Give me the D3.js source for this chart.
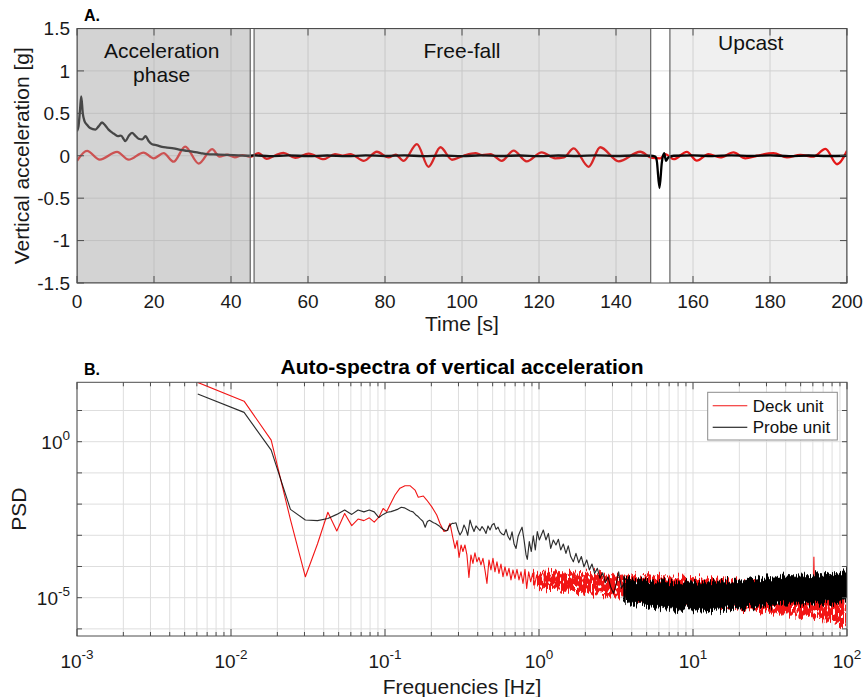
<!DOCTYPE html>
<html>
<head>
<meta charset="utf-8">
<script src="https://cdn.jsdelivr.net/npm/d3@7"></script>
<style>
  body { margin: 0; background: #fff; }
  svg text { font-family: "Liberation Sans", Arial, Helvetica, sans-serif; }
</style>
</head>
<body>
<svg id="fig" width="863" height="697"></svg>
<script>
// ---------------- Panel A: vertical acceleration time series ----------------
const deckTime = [0, 2.6, 5.9, 10.4, 13.4, 17.3, 19.9, 22.5, 25.1, 28.1, 31.6, 35.1, 37.0, 39.0, 41.0, 43.0, 45.0,
  47.1, 49.3, 51.3, 53.6, 56.7, 60.2, 64.1, 67.0, 69.0, 71.0, 74.5, 77.9, 80.9, 82.8, 84.8, 88.3, 91.3, 94.4, 97.4,
  100.4, 103.5, 105.2, 107.4, 110.3, 113.4, 116.8, 120.7, 124.2, 126.5, 129.0, 132.9, 135.9, 140.7, 146.3, 149.3,
  151.5, 152.8, 155.0, 158.4, 161.0, 164.0, 167.1, 170.5, 173.6, 176.6, 180.9, 184.4, 187.9, 191.3, 194.4, 197.4, 200];
const deckAccel = [-0.06, 0.058, -0.046, 0.046, -0.046, 0.038, -0.03, 0.03, -0.07, 0.108, -0.092, 0.077, -0.01, 0.012, -0.018, 0.008, -0.012,
  0.03, -0.037, 0.0, 0.035, -0.025, 0.024, -0.04, 0.02, 0.0, 0.02, -0.06, 0.047, -0.02, 0.012, -0.06, 0.138, -0.13, 0.10, -0.047,
  0.0, 0.03, 0.008, 0.02, -0.06, 0.06, -0.066, 0.04, -0.03, -0.02, 0.087, -0.13, 0.10, -0.066, 0.047, -0.025,
  -0.03, 0.02, -0.04, 0.046, -0.058, 0.02, -0.02, 0.04, -0.03, 0.0, 0.03, -0.02, 0.01, -0.01, 0.08, -0.10, 0.06];

const probeTime = [0, 0.4, 0.8, 1.1, 1.5, 1.9, 2.6, 3.4, 4.8, 5.6, 6.5, 7.4, 8.2, 9.5, 10.6, 11.4, 12.6, 13.4, 14.3,
  15.1, 16.0, 16.9, 17.8, 18.6, 19.5, 20.8, 22.1, 23.4, 25.1, 26.9, 28.6, 30.3, 32.1, 33.8, 36.4, 40.7, 44.1,
  46, 50, 55, 60, 65, 70, 75, 80, 85, 90, 95, 100, 105, 110, 115, 120, 125, 130, 135, 140, 145, 149,
  150.2, 150.6, 151.3, 151.9, 152.5, 153.0, 153.6, 155, 160, 165, 170, 175, 180, 185, 190, 195, 200];
const probeAccel = [0.29, 0.35, 0.55, 0.70, 0.50, 0.415, 0.365, 0.327, 0.308, 0.346, 0.392, 0.354, 0.308, 0.262, 0.231, 0.238, 0.173, 0.231, 0.269,
  0.238, 0.20, 0.192, 0.231, 0.173, 0.135, 0.123, 0.104, 0.096, 0.088, 0.069, 0.058, 0.046, 0.031, 0.019, 0.015, 0.008, 0.0,
  0.005, -0.005, 0.004, -0.004, 0.003, -0.005, 0.004, -0.003, 0.004, -0.004, 0.003, -0.004, 0.004, -0.003, 0.003, -0.004, 0.003, -0.003, 0.004, -0.003, 0.003, 0.0,
  -0.01, -0.06, -0.38, -0.08, 0.03, -0.06, -0.02, 0.0, 0.004, -0.004, 0.005, -0.003, 0.004, -0.004, 0.003, -0.003, 0.0];

const phaseLabels = [["Acceleration", "phase"], ["Free-fall"], ["Upcast"]];
const phaseStart = [0, 46, 154];
const phaseEnd = [45, 149, 200];
const phaseLabelTime = [22, 100, 175];

const timeTicks = [0, 20, 40, 60, 80, 100, 120, 140, 160, 180, 200];
const accelTicks = [-1.5, -1, -0.5, 0, 0.5, 1, 1.5];

// ---------------- Panel B: auto-spectra (log10 frequency, log10 PSD) ----------------
const deckLogFreq = [-2.216, -1.915, -1.739, -1.614, -1.517, -1.438, -1.371, -1.313, -1.262, -1.216, -1.175, -1.137,
  -1.102, -1.070, -1.040, -1.012, -0.989, -0.968, -0.935, -0.903, -0.870, -0.838, -0.805, -0.784, -0.751, -0.729,
  -0.697, -0.664, -0.643, -0.617, -0.595, -0.578, -0.561, -0.545, -0.532, -0.519, -0.506, -0.494, -0.481, -0.468,
  -0.455, -0.442, -0.429, -0.416, -0.403, -0.390, -0.377, -0.364, -0.351, -0.338, -0.325, -0.312, -0.299, -0.286,
  -0.273, -0.260, -0.247, -0.234, -0.221, -0.208, -0.195, -0.182, -0.169, -0.156, -0.143, -0.130, -0.117, -0.104,
  -0.091, -0.080, -0.067, -0.054, -0.041, -0.028, -0.015, -0.002];
const deckLogPsd = [1.90, 1.30, 0.05, -2.50, -4.33, -3.27, -2.26, -2.86, -2.30, -2.69, -2.48, -2.53,
  -2.44, -2.58, -2.42, -2.14, -2.24, -2.03, -1.71, -1.49, -1.41, -1.41, -1.55, -1.78, -1.74, -1.87,
  -2.08, -2.35, -2.62, -2.88, -2.83, -2.62, -3.04, -3.42, -3.17, -3.71, -3.31, -3.52, -3.31, -3.63,
  -4.35, -3.63, -3.90, -3.56, -3.85, -3.71, -3.95, -3.74, -4.11, -4.54, -3.79, -4.11, -3.74, -4.17,
  -3.85, -4.22, -3.92, -4.33, -4.01, -4.30, -4.06, -4.43, -4.11, -4.38, -4.09, -4.43, -4.17, -4.54,
  -4.09, -4.70, -4.17, -4.49, -4.22, -4.59, -4.27, -4.54];

const probeLogFreq = [-2.216, -1.915, -1.739, -1.614, -1.517, -1.438, -1.371, -1.313, -1.262, -1.216, -1.175, -1.137,
  -1.102, -1.070, -1.040, -1.012, -0.985, -0.961, -0.937, -0.915, -0.894, -0.874, -0.854, -0.836, -0.818, -0.801,
  -0.785, -0.769, -0.754, -0.739, -0.725, -0.711, -0.698, -0.685, -0.672, -0.660, -0.648, -0.636, -0.625, -0.614,
  -0.604, -0.593, -0.583, -0.573, -0.564, -0.556, -0.539, -0.526, -0.513, -0.500, -0.487, -0.474, -0.463, -0.448,
  -0.435, -0.422, -0.409, -0.396, -0.383, -0.370, -0.357, -0.344, -0.331, -0.318, -0.305, -0.292, -0.279, -0.266,
  -0.253, -0.240, -0.227, -0.214, -0.201, -0.188, -0.175, -0.162, -0.149, -0.136, -0.123, -0.110, -0.097, -0.084,
  -0.076, -0.063, -0.050, -0.037, -0.024, -0.011, 0.002, 0.028, 0.045, 0.061, 0.076, 0.093, 0.110, 0.126, 0.141,
  0.158, 0.175, 0.190, 0.206, 0.223, 0.240, 0.258, 0.275, 0.292, 0.310, 0.327, 0.344, 0.361, 0.379, 0.396, 0.413,
  0.431, 0.448, 0.465, 0.483, 0.500, 0.517, 0.535, 0.552, 0.569];
const probeLogPsd = [1.53, 0.94, -0.27, -2.17, -2.51, -2.53, -2.46, -2.33, -2.19, -2.33, -2.19, -2.25,
  -2.19, -2.25, -2.43, -2.33, -2.26, -2.24, -2.20, -2.16, -2.10, -2.12, -2.17, -2.22, -2.25, -2.34,
  -2.40, -2.48, -2.55, -2.74, -2.56, -2.52, -2.56, -2.60, -2.62, -2.66, -2.70, -2.76, -2.80, -2.83,
  -2.86, -2.84, -2.70, -2.66, -2.62, -2.62, -2.60, -2.83, -2.99, -2.88, -2.67, -2.81, -3.00, -2.51,
  -2.72, -2.88, -2.70, -2.78, -2.85, -2.72, -2.81, -2.94, -2.70, -2.83, -2.67, -2.62, -2.81, -2.74,
  -2.89, -2.96, -2.99, -2.81, -3.04, -3.15, -2.89, -3.28, -3.42, -3.04, -2.88, -2.74, -3.15, -3.63,
  -3.77, -3.20, -3.52, -3.02, -3.47, -2.88, -3.15, -2.83, -3.15, -2.94, -3.42, -3.15, -3.31, -3.13, -3.47,
  -3.28, -3.58, -3.34, -3.68, -3.85, -3.58, -3.88, -3.68, -4.01, -3.79, -4.11, -3.92, -4.22, -4.06, -4.38, -4.20,
  -4.52, -4.33, -4.65, -4.86, -4.59, -4.17, -4.70, -4.54, -5.07];

// Dense high-frequency parts: lower / upper envelope of the noisy spectra
const deckBandLogFreq = [-0.02, 0.05, 0.10, 0.15, 0.20, 0.25, 0.30, 0.35, 0.40, 0.45, 0.50, 0.55, 0.60, 0.65, 0.70,
  0.80, 0.90, 1.00, 1.10, 1.20, 1.30, 1.40, 1.50, 1.60, 1.70, 1.78, 1.85, 1.90, 1.95, 2.00];
const deckBandLo = [-4.62, -4.72, -4.70, -4.80, -4.78, -4.88, -4.85, -4.92, -4.90, -4.96, -4.94, -4.98, -4.97, -5.02, -5.00,
  -5.06, -5.12, -5.16, -5.22, -5.26, -5.33, -5.42, -5.48, -5.55, -5.58, -5.62, -5.70, -5.75, -5.85, -5.92];
const deckBandHi = [-4.12, -4.18, -4.15, -4.20, -4.18, -4.24, -4.21, -4.27, -4.24, -4.29, -4.26, -4.31, -4.28, -4.32, -4.29,
  -4.33, -4.34, -4.35, -4.38, -4.42, -4.47, -4.52, -4.57, -4.60, -4.64, -4.66, -4.70, -4.74, -4.78, -4.82];
// narrow line near 61 Hz standing out of the deck-unit noise
const deckPeakLogFreq = [1.782, 1.785, 1.788];
const deckPeakLogPsd = [-4.60, -3.69, -4.60];

const probeBandLogFreq = [0.55, 0.60, 0.65, 0.70, 0.75, 0.80, 0.85, 0.90, 0.95, 1.00, 1.05, 1.10, 1.15, 1.20, 1.25,
  1.30, 1.35, 1.40, 1.45, 1.50, 1.55, 1.60, 1.65, 1.70, 1.75, 1.80, 1.85, 1.90, 1.95, 2.00];
const probeBandLo = [-5.10, -5.22, -5.18, -5.30, -5.25, -5.38, -5.30, -5.42, -5.33, -5.40, -5.34, -5.45, -5.33, -5.38, -5.30,
  -5.40, -5.28, -5.33, -5.25, -5.30, -5.20, -5.25, -5.17, -5.22, -5.15, -5.20, -5.12, -5.16, -5.10, -5.12];
const probeBandHi = [-4.30, -4.40, -4.45, -4.42, -4.50, -4.47, -4.52, -4.48, -4.52, -4.46, -4.52, -4.47, -4.50, -4.44, -4.48,
  -4.42, -4.45, -4.38, -4.42, -4.35, -4.38, -4.30, -4.34, -4.27, -4.30, -4.22, -4.26, -4.18, -4.22, -4.15];

const freqDecades = [-3, -2, -1, 0, 1, 2];
const psdGridDecades = [-6, -5, -4, -3, -2, -1, 0, 1];
const psdLabelDecades = [0, -5];
const seriesNames = ["Deck unit", "Probe unit"];

// ---------------- drawing ----------------
const svg = d3.select("#fig");
const pow10 = v => Math.pow(10, v);
const FONT_TICK = 19, FONT_LABEL = 21;
const AXIS_COLOR = "#4d4d4d", GRID_COLOR = "#dedede";
const DECK_COLOR = "#f21515", PROBE_COLOR = "#000000";

// texture filters: ragged edges (column-wise vertical jitter) and optional light speckle
const defs = svg.append("defs");
function raggedFilter(id, seed, scale, speckle) {
  const f = defs.append("filter").attr("id", id).attr("color-interpolation-filters", "sRGB")
    .attr("x", "-2%").attr("y", "-40%").attr("width", "104%").attr("height", "180%");
  f.append("feTurbulence").attr("type", "fractalNoise").attr("baseFrequency", "0.7 0.004")
    .attr("numOctaves", 2).attr("seed", seed).attr("result", "warp");
  f.append("feDisplacementMap").attr("in", "SourceGraphic").attr("in2", "warp")
    .attr("scale", scale).attr("xChannelSelector", "B").attr("yChannelSelector", "G").attr("result", "moved");
  if (speckle) {
    f.append("feTurbulence").attr("type", "fractalNoise").attr("baseFrequency", "0.45 0.2")
      .attr("numOctaves", 1).attr("seed", seed + 11).attr("result", "speck");
    f.append("feColorMatrix").attr("in", "speck").attr("type", "matrix")
      .attr("values", `0 0 0 0 0  0 0 0 0 0  0 0 0 0 0  -14 0 0 0 ${14 * speckle}`).attr("result", "keep");
    f.append("feComposite").attr("in", "moved").attr("in2", "keep").attr("operator", "in");
  }
}
raggedFilter("raggedDeck", 3, 16, 0.66);
raggedFilter("raggedProbe", 5, 16, 0);

// ===== Panel A =====
const A = { l: 77, r: 847, t: 28.5, b: 283 };
const xA = d3.scaleLinear().domain([0, 200]).range([A.l, A.r]);
const yA = d3.scaleLinear().domain([-1.5, 1.5]).range([A.b, A.t]);

svg.append("clipPath").attr("id", "clipA").append("rect")
  .attr("x", A.l).attr("y", A.t).attr("width", A.r - A.l).attr("height", A.b - A.t);

const gA = svg.append("g");
const gridA = gA.append("g").attr("stroke", GRID_COLOR).attr("stroke-width", 1);
timeTicks.slice(1, -1).forEach(t => gridA.append("line")
  .attr("x1", xA(t)).attr("x2", xA(t)).attr("y1", A.t).attr("y2", A.b));
accelTicks.slice(1, -1).forEach(v => gridA.append("line")
  .attr("x1", A.l).attr("x2", A.r).attr("y1", yA(v)).attr("y2", yA(v)));

const lineA = d3.line().x(d => xA(d[0])).y(d => yA(d[1])).curve(d3.curveMonotoneX);
const plotA = gA.append("g").attr("clip-path", "url(#clipA)");
plotA.append("path").datum(d3.zip(deckTime, deckAccel)).attr("d", lineA)
  .attr("fill", "none").attr("stroke", DECK_COLOR).attr("stroke-width", 2.3).attr("stroke-linejoin", "round");
plotA.append("path").datum(d3.zip(probeTime, probeAccel)).attr("d", lineA)
  .attr("fill", "none").attr("stroke", PROBE_COLOR).attr("stroke-width", 2.3).attr("stroke-linejoin", "round");

// translucent phase patches laid over the traces
const phaseFill = ["#9d9d9d", "#6e6e6e", "#3a3a3a"];
const phaseAlpha = [0.45, 0.2, 0.08];
phaseStart.forEach((s, i) => {
  plotA.append("rect")
    .attr("x", xA(s)).attr("y", A.t).attr("width", xA(phaseEnd[i]) - xA(s)).attr("height", A.b - A.t)
    .attr("fill", phaseFill[i]).attr("fill-opacity", phaseAlpha[i])
    .attr("stroke", "#6f6f6f").attr("stroke-width", 1.3);
});

const phaseBaselines = [[58, 82], [58], [50]];
phaseLabels.forEach((lines, i) => {
  lines.forEach((txt, j) => gA.append("text")
    .attr("x", xA(phaseLabelTime[i])).attr("y", phaseBaselines[i][j])
    .attr("text-anchor", "middle").attr("font-size", FONT_LABEL).attr("fill", "#111").text(txt));
});

gA.append("rect").attr("x", A.l).attr("y", A.t).attr("width", A.r - A.l).attr("height", A.b - A.t)
  .attr("fill", "none").attr("stroke", AXIS_COLOR).attr("stroke-width", 1);
const tickA = gA.append("g").attr("stroke", AXIS_COLOR).attr("stroke-width", 1);
timeTicks.forEach(t => {
  tickA.append("line").attr("x1", xA(t)).attr("x2", xA(t)).attr("y1", A.b).attr("y2", A.b - 7);
  tickA.append("line").attr("x1", xA(t)).attr("x2", xA(t)).attr("y1", A.t).attr("y2", A.t + 7);
});
accelTicks.forEach(v => {
  tickA.append("line").attr("x1", A.l).attr("x2", A.l + 7).attr("y1", yA(v)).attr("y2", yA(v));
  tickA.append("line").attr("x1", A.r).attr("x2", A.r - 7).attr("y1", yA(v)).attr("y2", yA(v));
});
timeTicks.forEach(t => gA.append("text").attr("x", xA(t)).attr("y", 308)
  .attr("text-anchor", "middle").attr("font-size", FONT_TICK).attr("fill", "#1a1a1a").text(t));
accelTicks.forEach(v => gA.append("text").attr("x", 70).attr("y", yA(v)).attr("dy", "0.36em")
  .attr("text-anchor", "end").attr("font-size", FONT_TICK).attr("fill", "#1a1a1a").text(String(v)));

gA.append("text").attr("x", (A.l + A.r) / 2).attr("y", 331).attr("text-anchor", "middle")
  .attr("font-size", FONT_LABEL).attr("fill", "#1a1a1a").text("Time [s]");
gA.append("text").attr("transform", `translate(29,${(A.t + A.b) / 2}) rotate(-90)`)
  .attr("text-anchor", "middle").attr("font-size", FONT_LABEL).attr("fill", "#1a1a1a").text("Vertical acceleration [g]");
gA.append("text").attr("x", 84).attr("y", 21).attr("font-size", 16).attr("font-weight", "bold").text("A.");

// ===== Panel B =====
const B = { l: 77, r: 847, t: 382.3, b: 636 };
const xB = d3.scaleLog().domain([1e-3, 1e2]).range([B.l, B.r]);
const yB = d3.scaleLog().domain([pow10(-6.228), pow10(1.904)]).range([B.b, B.t]);

svg.append("clipPath").attr("id", "clipB").append("rect")
  .attr("x", B.l).attr("y", B.t).attr("width", B.r - B.l).attr("height", B.b - B.t);

const gB = svg.append("g");
const gridB = gB.append("g").attr("stroke", GRID_COLOR).attr("stroke-width", 1);
const minorFreqs = [];
freqDecades.slice(0, -1).forEach(d => { for (let k = 1; k <= 9; k++) minorFreqs.push(k * pow10(d)); });
minorFreqs.forEach(f => gridB.append("line").attr("x1", xB(f)).attr("x2", xB(f)).attr("y1", B.t).attr("y2", B.b));
psdGridDecades.forEach(d => {
  const y = yB(pow10(d));
  if (y > B.t && y < B.b) gridB.append("line").attr("x1", B.l).attr("x2", B.r).attr("y1", y).attr("y2", y);
});

const plotB = gB.append("g").attr("clip-path", "url(#clipB)");
const lineB = d3.line().x(d => xB(pow10(d[0]))).y(d => yB(pow10(d[1])));
const areaB = d3.area().x(d => xB(pow10(d[0]))).y0(d => yB(pow10(d[1]))).y1(d => yB(pow10(d[2])));

plotB.append("path").datum(d3.zip(deckLogFreq, deckLogPsd)).attr("d", lineB)
  .attr("fill", "none").attr("stroke", DECK_COLOR).attr("stroke-width", 1.1).attr("stroke-linejoin", "round");
plotB.append("g").attr("filter", "url(#raggedDeck)").append("path")
  .datum(d3.zip(deckBandLogFreq, deckBandLo, deckBandHi)).attr("d", areaB)
  .attr("fill", DECK_COLOR).attr("stroke", DECK_COLOR).attr("stroke-width", 0.8);
plotB.append("path").datum(d3.zip(deckPeakLogFreq, deckPeakLogPsd)).attr("d", lineB)
  .attr("fill", "none").attr("stroke", DECK_COLOR).attr("stroke-width", 1.1);

plotB.append("path").datum(d3.zip(probeLogFreq, probeLogPsd)).attr("d", lineB)
  .attr("fill", "none").attr("stroke", PROBE_COLOR).attr("stroke-opacity", 0.82).attr("stroke-width", 1.15).attr("stroke-linejoin", "round");
plotB.append("g").attr("filter", "url(#raggedProbe)").append("path")
  .datum(d3.zip(probeBandLogFreq, probeBandLo, probeBandHi)).attr("d", areaB)
  .attr("fill", PROBE_COLOR).attr("stroke", PROBE_COLOR).attr("stroke-width", 0.8);

gB.append("rect").attr("x", B.l).attr("y", B.t).attr("width", B.r - B.l).attr("height", B.b - B.t)
  .attr("fill", "none").attr("stroke", AXIS_COLOR).attr("stroke-width", 1);
const tickB = gB.append("g").attr("stroke", AXIS_COLOR).attr("stroke-width", 1);
minorFreqs.concat([pow10(2)]).forEach(f => {
  const major = Math.abs(Math.log10(f) - Math.round(Math.log10(f))) < 1e-9;
  const len = major ? 7 : 4;
  tickB.append("line").attr("x1", xB(f)).attr("x2", xB(f)).attr("y1", B.b).attr("y2", B.b - len);
  tickB.append("line").attr("x1", xB(f)).attr("x2", xB(f)).attr("y1", B.t).attr("y2", B.t + len);
});
psdGridDecades.forEach(d => {
  const y = yB(pow10(d));
  if (y > B.t && y < B.b) {
    tickB.append("line").attr("x1", B.l).attr("x2", B.l + 5).attr("y1", y).attr("y2", y);
    tickB.append("line").attr("x1", B.r).attr("x2", B.r - 5).attr("y1", y).attr("y2", y);
  }
});

function powLabel(g, x, y, exp, anchor) {
  const t = g.append("text").attr("x", x).attr("y", y).attr("text-anchor", anchor)
    .attr("font-size", FONT_TICK).attr("fill", "#1a1a1a");
  t.append("tspan").text("10");
  t.append("tspan").attr("dy", -9).attr("font-size", 13.5).text(String(exp));
}
freqDecades.forEach(d => powLabel(gB, xB(pow10(d)), 668, d, "middle"));
psdLabelDecades.forEach(d => powLabel(gB, 70, yB(pow10(d)) + 7, d, "end"));

gB.append("text").attr("x", (B.l + B.r) / 2).attr("y", 694).attr("text-anchor", "middle")
  .attr("font-size", FONT_LABEL).attr("fill", "#1a1a1a").text("Frequencies [Hz]");
gB.append("text").attr("transform", `translate(26,${(B.t + B.b) / 2}) rotate(-90)`)
  .attr("text-anchor", "middle").attr("font-size", FONT_LABEL).attr("fill", "#1a1a1a").text("PSD");
gB.append("text").attr("x", (B.l + B.r) / 2).attr("y", 374).attr("text-anchor", "middle")
  .attr("font-size", FONT_LABEL).attr("font-weight", "bold").text("Auto-spectra of vertical acceleration");
gB.append("text").attr("x", 84).attr("y", 375).attr("font-size", 16).attr("font-weight", "bold").text("B.");

const leg = gB.append("g");
leg.append("rect").attr("x", 707.7).attr("y", 392.3).attr("width", 129.6).attr("height", 47.7)
  .attr("fill", "#fff").attr("stroke", "#8c8c8c").attr("stroke-width", 1);
[DECK_COLOR, PROBE_COLOR].forEach((c, i) => {
  const y = 405.7 + i * 21.6;
  leg.append("line").attr("x1", 712.7).attr("x2", 747.3).attr("y1", y).attr("y2", y)
    .attr("stroke", c).attr("stroke-width", 1.1);
  leg.append("text").attr("x", 752.7).attr("y", y + 6).attr("font-size", 17).attr("fill", "#111").text(seriesNames[i]);
});
</script>
</body>
</html>
